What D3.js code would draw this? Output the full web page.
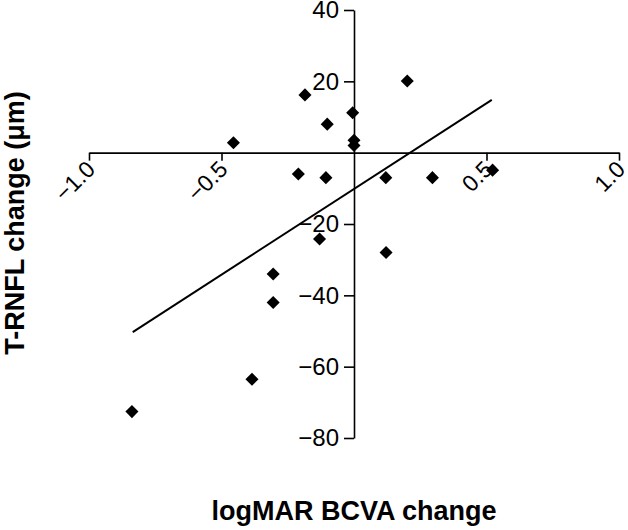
<!DOCTYPE html>
<html>
<head>
<meta charset="utf-8">
<script src="https://cdn.jsdelivr.net/npm/d3@7"></script>
<style>
  html, body { margin: 0; padding: 0; background: #fff; }
  svg { display: block; font-family: "Liberation Sans", Arial, sans-serif; }
</style>
</head>
<body>
<svg id="chart" width="628" height="530"></svg>
<script>
// Data
const bcvaChange = [-0.838, -0.385, -0.305, -0.305, -0.210, -0.106, -0.130, -0.455, -0.185, -0.101, -0.005, 0.0, 0.0, 0.201, 0.120, 0.296, 0.523, 0.121];
const rnflChange = [-72.6, -63.5, -34.0, -42.0, -6.0, -7.0, -24.2, 2.8, 16.2, 8.0, 11.2, 3.5, 2.0, 20.1, -7.0, -7.0, -4.9, -28.0];
const fitX = [-0.835, 0.52];
const fitY = [-50.3, 14.8];
const xTicks = [-1.0, -0.5, 0.5, 1.0];
const yTicks = [-80, -60, -40, -20, 20, 40];
const xTitle = "logMAR BCVA change";
const yTitle = "T-RNFL change (\u03bcm)";

const svg = d3.select("#chart");
const x = d3.scaleLinear().domain([-1, 1]).range([89, 619]);
const y = d3.scaleLinear().domain([-80, 40]).range([438, 10]);

// X axis at y = 0
const xAxis = svg.append("g")
  .attr("transform", `translate(0,${y(0)})`)
  .call(d3.axisBottom(x).tickValues(xTicks).tickSize(8).tickSizeOuter(0)
    .tickFormat(d3.format(".1f")));
xAxis.selectAll("text").remove();
xAxis.selectAll(".tick").append("text")
  .attr("fill", "#000")
  .attr("text-anchor", "end")
  .attr("font-size", 23)
  .attr("transform", "translate(7,18) rotate(-45)")
  .text(d => d3.format(".1f")(d));

// Y axis at x = 0
const yAxis = svg.append("g")
  .attr("transform", `translate(${x(0)},0)`)
  .call(d3.axisLeft(y).tickValues(yTicks).tickSize(10).tickSizeOuter(0).tickPadding(5)
    .tickFormat(d3.format("d")));
yAxis.selectAll("text").attr("font-size", 24).attr("fill", "#000")
  .attr("font-family", "'Liberation Sans', Arial, sans-serif");

svg.selectAll(".domain, .tick line").attr("stroke", "#000").attr("stroke-width", 1.6);

// Regression line
const fitData = fitX.map((v, i) => [v, fitY[i]]);
svg.append("path")
  .datum(fitData)
  .attr("fill", "none")
  .attr("stroke", "#000")
  .attr("stroke-width", 2)
  .attr("d", d3.line().x(d => x(d[0])).y(d => y(d[1])));

// Points
const pts = bcvaChange.map((v, i) => [v, rnflChange[i]]);
svg.append("g").selectAll("path")
  .data(pts)
  .join("path")
  .attr("d", d3.symbol(d3.symbolSquare, 85))
  .attr("fill", "#000")
  .attr("transform", d => `translate(${x(d[0])},${y(d[1])}) rotate(45)`);

// Titles
svg.append("text")
  .attr("x", x(0))
  .attr("y", 520)
  .attr("text-anchor", "middle")
  .attr("font-size", 27)
  .attr("font-weight", "bold")
  .text(xTitle);

svg.append("text")
  .attr("transform", "translate(24,223) rotate(-90)")
  .attr("text-anchor", "middle")
  .attr("font-size", 27)
  .attr("font-weight", "bold")
  .text(yTitle);
</script>
</body>
</html>
